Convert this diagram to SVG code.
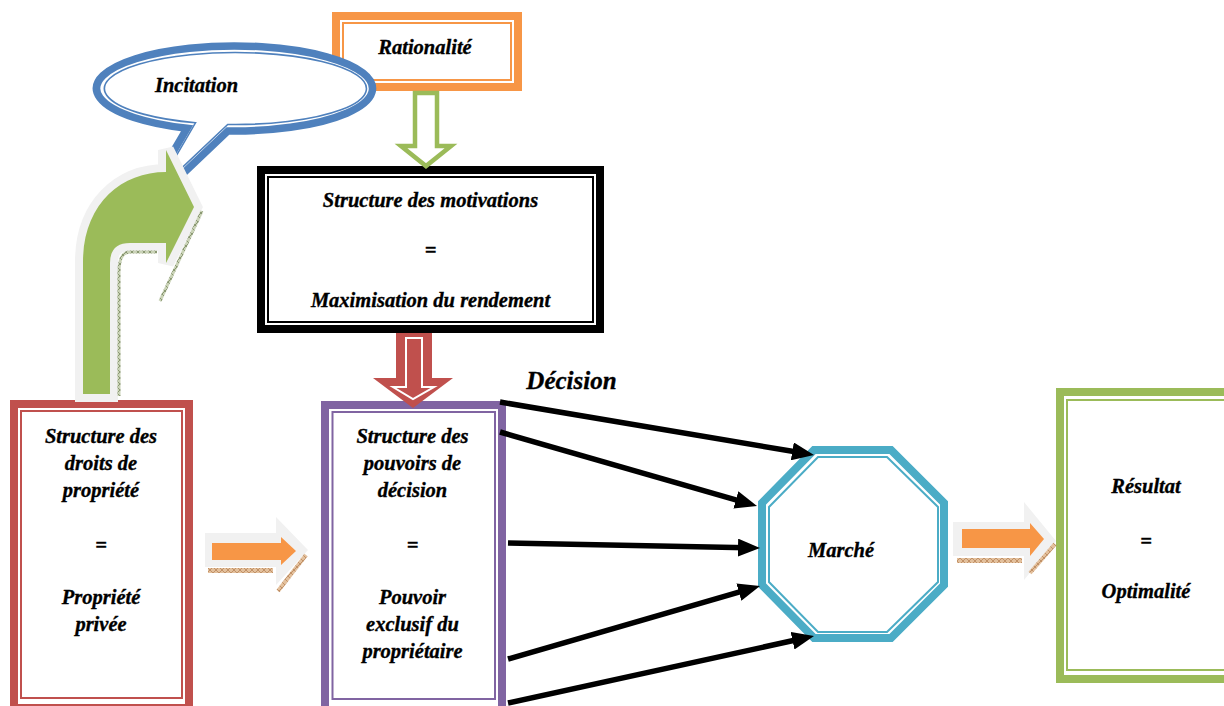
<svg xmlns="http://www.w3.org/2000/svg" width="1224" height="706" viewBox="0 0 1224 706">
  <defs>
    <style>
      .lbl { font-family: "Liberation Serif", "Times New Roman", serif; font-weight: bold; font-style: italic; font-size: 20.5px; fill: #000; stroke: #000; stroke-width: 0.35; text-anchor: middle; }
      .big { font-size: 25px; }
      .thick { fill: none; stroke-width: 8; }
      .thin { fill: none; stroke-width: 2; }
      .conn { stroke: #000; stroke-width: 5.5; fill: none; marker-end: url(#head); }
      .glow { fill: #f1f1f1; }
    </style>
    <marker id="head" viewBox="0 0 22 18" refX="9" refY="9" markerWidth="22" markerHeight="18" markerUnits="userSpaceOnUse" orient="auto">
      <path d="M0,0 L22,9 L0,18 Z" fill="#000"/>
    </marker>
    <pattern id="hatchBrown" width="6" height="6" patternUnits="userSpaceOnUse">
      <rect width="6" height="6" fill="#e3c09c"/>
      <path d="M0 6 L6 0 M0 0 L6 6" stroke="#b27c50" stroke-width="0.7"/>
    </pattern>
    <pattern id="hatchGreen" width="6" height="6" patternUnits="userSpaceOnUse">
      <rect width="6" height="6" fill="#c9d2b6"/>
      <path d="M0 6 L6 0 M0 0 L6 6" stroke="#6f7f55" stroke-width="0.7"/>
    </pattern>
  </defs>

  <rect width="1224" height="706" fill="#fff"/>

  <!-- Rationalité -->
  <g id="rationalite">
    <rect x="336" y="16" width="182" height="71" class="thick" stroke="#f79646" fill="#fff"/>
    <rect x="343" y="23" width="168" height="57" class="thin" stroke="#f79646"/>
    <text x="425" y="54" class="lbl">Rationalité</text>
  </g>

  <!-- Incitation speech bubble -->
  <g id="incitation">
    <path d="M228 130.9 A138 42.5 0 1 0 187 128.35 L132 222 Z" fill="#fff" stroke="#4f81bd" stroke-width="7.5" stroke-linejoin="miter"/>
    <path d="M227.7 124.45 A131 36 0 1 0 195.5 122.8 L153.6 194.7 Z" fill="none" stroke="#4f81bd" stroke-width="1.6"/>
    <text x="196.5" y="92" class="lbl">Incitation</text>
  </g>

  <!-- Structure des motivations -->
  <g id="motivations">
    <rect x="261" y="170" width="339" height="159" class="thick" stroke="#000" fill="#fff"/>
    <rect x="268" y="177" width="325" height="145" class="thin" stroke="#000" stroke-width="2.5"/>
    <text x="430.5" y="207" class="lbl">Structure des motivations</text>
    <text x="430.5" y="257" class="lbl">=</text>
    <text x="430.5" y="307" class="lbl">Maximisation du rendement</text>
  </g>

  <!-- Structure des droits de propriété -->
  <g id="droits">
    <rect x="14" y="404" width="175" height="304" class="thick" stroke="#c0504d" fill="#fff"/>
    <rect x="21" y="411" width="161" height="287" class="thin" stroke="#c0504d"/>
    <text x="101" y="443" class="lbl">Structure des</text>
    <text x="101" y="470" class="lbl">droits de</text>
    <text x="101" y="497" class="lbl">propriété</text>
    <text x="101" y="552" class="lbl">=</text>
    <text x="101" y="604" class="lbl">Propriété</text>
    <text x="101" y="631" class="lbl">privée</text>
  </g>

  <!-- Structure des pouvoirs de décision -->
  <g id="pouvoirs">
    <rect x="325" y="405" width="177" height="305" class="thick" stroke="#8064a2" fill="#fff"/>
    <rect x="332.5" y="412" width="162.5" height="287" class="thin" stroke="#8064a2"/>
    <text x="412.5" y="443" class="lbl">Structure des</text>
    <text x="412.5" y="470" class="lbl">pouvoirs de</text>
    <text x="412.5" y="497" class="lbl">décision</text>
    <text x="412.5" y="552" class="lbl">=</text>
    <text x="412.5" y="604" class="lbl">Pouvoir</text>
    <text x="412.5" y="631" class="lbl">exclusif du</text>
    <text x="412.5" y="658" class="lbl">propriétaire</text>
  </g>

  <!-- Marché -->
  <g id="marche">
    <path d="M814 450 L891 450 L944 503 L944 585 L891 638 L814 638 L762 585 L762 503 Z" class="thick" stroke="#4bacc6" stroke-width="9" fill="#fff"/>
    <path d="M818 457 L887 457 L938 507 L938 582 L887 632 L818 632 L769 582 L769 507 Z" class="thin" stroke="#4bacc6"/>
    <text x="841" y="557" class="lbl">Marché</text>
  </g>

  <!-- Résultat -->
  <g id="resultat">
    <rect x="1060" y="392" width="200" height="287" class="thick" stroke="#9bbb59" fill="#fff"/>
    <rect x="1067" y="400" width="190" height="270" class="thin" stroke="#9bbb59"/>
    <text x="1146" y="493" class="lbl">Résultat</text>
    <text x="1146" y="548" class="lbl">=</text>
    <text x="1146" y="598" class="lbl">Optimalité</text>
  </g>

  <text id="decision" x="571.5" y="389" class="lbl big">Décision</text>

  <g id="connectors">
    <!-- curved arrow: property rights to incentive -->
    <g id="arrow-incitation">
      <path d="M83 394 L83 262 C83 205 120 172 166 172 L166 150 L194 207 L166 263 L166 243 L130 243 Q110 243 110 263 L110 394 Z" fill="#f1f1f1" stroke="#f1f1f1" stroke-width="16" stroke-linejoin="miter"/>
      <path d="M157 252 L130 252 Q119 252 119 272 L119 396" fill="none" stroke="url(#hatchGreen)" stroke-width="3"/>
      <path d="M202 211 L160 301" fill="none" stroke="url(#hatchGreen)" stroke-width="3"/>
      <path d="M83 394 L83 262 C83 205 120 172 166 172 L166 150 L194 207 L166 263 L166 243 L130 243 Q110 243 110 263 L110 394 Z" fill="#9bbb59"/>
    </g>

    <!-- hollow arrow: rationality to motivations -->
    <path id="arrow-rationalite" d="M415 93 L437 93 L437 146 L451 146 L426 166 L401 146 L415 146 Z" fill="#fff" stroke="#9bbb59" stroke-width="4.5" stroke-linejoin="miter"/>

    <!-- hollow arrow: motivations to decision powers -->
    <g id="arrow-motivations">
      <path d="M396 333 L432 333 L432 378 L453 378 L413 408 L373 378 L396 378 Z" fill="#c0504d"/>
      <path d="M406 338 L422 338 L422 387 L434 387 L413 399 L393 387 L406 387 Z" fill="#c0504d" stroke="#fff" stroke-width="2"/>
    </g>

    <!-- block arrow: property rights to decision powers -->
    <g id="arrow-droits">
      <path d="M205 533 L276 533 L276 517 L308 550 L276 585 L276 567 L205 567 Z" class="glow"/>
      <rect x="208" y="568" width="65" height="5" fill="url(#hatchBrown)"/>
      <path d="M306 555 L278 591" stroke="url(#hatchBrown)" stroke-width="4" fill="none"/>
      <path d="M212 543 L281 543 L281 537 L296 551 L281 565 L281 560 L212 560 Z" fill="#f79646"/>
    </g>

    <!-- block arrow: market to result -->
    <g id="arrow-marche">
      <path d="M953 522 L1024 522 L1024 502 L1056 541 L1024 580 L1024 556 L953 556 Z" class="glow"/>
      <rect x="957" y="558" width="65" height="5" fill="url(#hatchBrown)"/>
      <path d="M1055 544 L1030 573" stroke="url(#hatchBrown)" stroke-width="4" fill="none"/>
      <path d="M962 529 L1030 529 L1030 523 L1044 539 L1030 556 L1030 548 L962 548 Z" fill="#f79646"/>
    </g>

    <!-- decision arrows into the market -->
    <line x1="500" y1="402" x2="801.2" y2="452.8" class="conn"/>
    <line x1="500" y1="432" x2="744.5" y2="502.4" class="conn"/>
    <line x1="508" y1="543" x2="747" y2="547.8" class="conn"/>
    <line x1="508" y1="659" x2="747.5" y2="589.6" class="conn"/>
    <line x1="508" y1="703" x2="801.3" y2="638.8" class="conn"/>
  </g>
</svg>
